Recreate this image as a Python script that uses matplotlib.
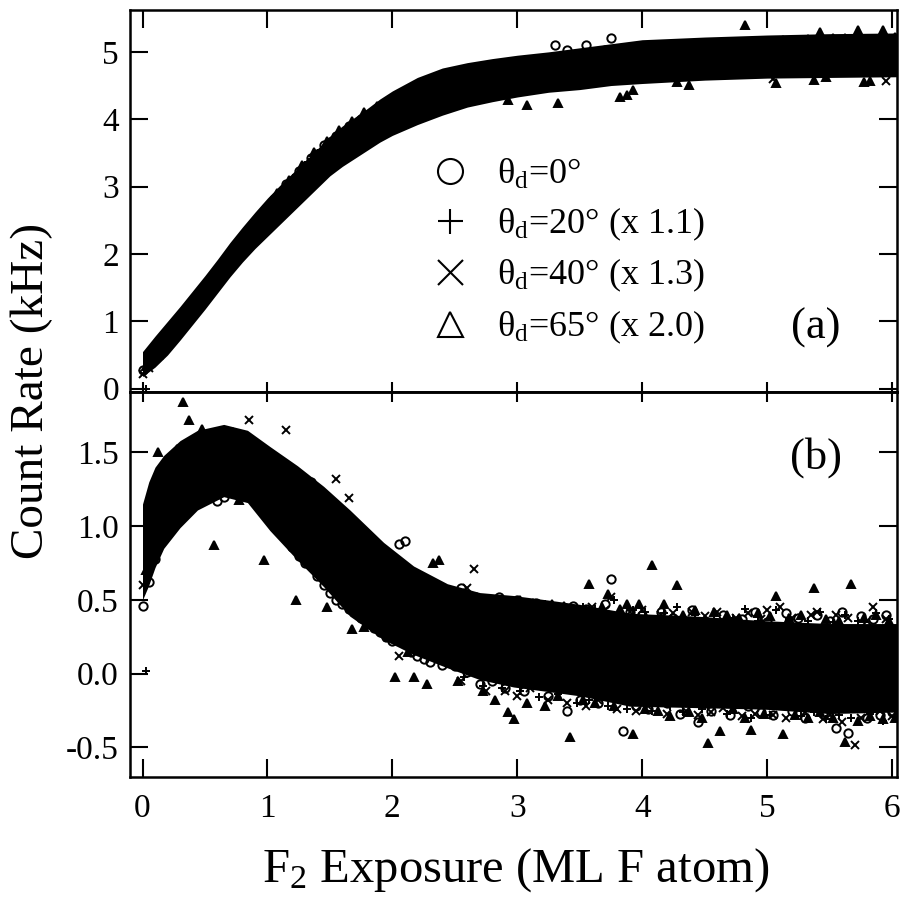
import matplotlib
matplotlib.use('Agg')
import matplotlib.pyplot as plt
from matplotlib.lines import Line2D
from matplotlib.ticker import FormatStrFormatter

plt.rcParams['font.family'] = 'Liberation Serif'
plt.rcParams['mathtext.fontset'] = 'custom'
plt.rcParams['mathtext.rm'] = 'Liberation Serif'
plt.rcParams['mathtext.it'] = 'Liberation Serif:italic'
plt.rcParams['axes.unicode_minus'] = False

# exposure grids (ML F atom), two interleaved sampling sets
exposureA = [0.00, 0.05, 0.10, 0.15, 0.20, 0.25, 0.30, 0.35, 0.40, 0.45,
             0.50, 0.55, 0.60, 0.65, 0.70, 0.75, 0.80, 0.85, 0.90, 0.95,
             1.00, 1.05, 1.10, 1.15, 1.20, 1.25, 1.30, 1.35, 1.40, 1.45,
             1.50, 1.55, 1.60, 1.65, 1.70, 1.75, 1.80, 1.85, 1.90, 1.95,
             2.00, 2.05, 2.10, 2.15, 2.20, 2.25, 2.30, 2.35, 2.40, 2.45,
             2.50, 2.55, 2.60, 2.65, 2.70, 2.75, 2.80, 2.85, 2.90, 2.95,
             3.00, 3.05, 3.10, 3.15, 3.20, 3.25, 3.30, 3.35, 3.40, 3.45,
             3.50, 3.55, 3.60, 3.65, 3.70, 3.75, 3.80, 3.85, 3.90, 3.95,
             4.00, 4.05, 4.10, 4.15, 4.20, 4.25, 4.30, 4.35, 4.40, 4.45,
             4.50, 4.55, 4.60, 4.65, 4.70, 4.75, 4.80, 4.85, 4.90, 4.95,
             5.00, 5.05, 5.10, 5.15, 5.20, 5.25, 5.30, 5.35, 5.40, 5.45,
             5.50, 5.55, 5.60, 5.65, 5.70, 5.75, 5.80, 5.85, 5.90, 5.95,
             6.00]
exposureB = [0.025, 0.075, 0.125, 0.175, 0.225, 0.275, 0.325, 0.375, 0.425, 0.475,
             0.525, 0.575, 0.625, 0.675, 0.725, 0.775, 0.825, 0.875, 0.925, 0.975,
             1.025, 1.075, 1.125, 1.175, 1.225, 1.275, 1.325, 1.375, 1.425, 1.475,
             1.525, 1.575, 1.625, 1.675, 1.725, 1.775, 1.825, 1.875, 1.925, 1.975,
             2.025, 2.075, 2.125, 2.175, 2.225, 2.275, 2.325, 2.375, 2.425, 2.475,
             2.525, 2.575, 2.625, 2.675, 2.725, 2.775, 2.825, 2.875, 2.925, 2.975,
             3.025, 3.075, 3.125, 3.175, 3.225, 3.275, 3.325, 3.375, 3.425, 3.475,
             3.525, 3.575, 3.625, 3.675, 3.725, 3.775, 3.825, 3.875, 3.925, 3.975,
             4.025, 4.075, 4.125, 4.175, 4.225, 4.275, 4.325, 4.375, 4.425, 4.475,
             4.525, 4.575, 4.625, 4.675, 4.725, 4.775, 4.825, 4.875, 4.925, 4.975,
             5.025, 5.075, 5.125, 5.175, 5.225, 5.275, 5.325, 5.375, 5.425, 5.475,
             5.525, 5.575, 5.625, 5.675, 5.725, 5.775, 5.825, 5.875, 5.925, 5.975,
             6.025]

# dense core of the overlapping points (edges)
topBandX = [0.00, 0.10, 0.20, 0.30, 0.40, 0.50, 0.60, 0.70, 0.80, 0.90,
            1.00, 1.10, 1.20, 1.30, 1.40, 1.50, 1.60, 1.70, 1.80, 1.90,
            2.00, 2.20, 2.40, 2.60, 2.80, 3.00, 3.25, 3.50, 3.75, 4.00,
            4.50, 5.00, 5.50, 6.04]
topBandLow = [0.18, 0.32, 0.50, 0.72, 0.95, 1.18, 1.42, 1.66, 1.88, 2.08,
              2.26, 2.44, 2.62, 2.80, 2.98, 3.16, 3.30, 3.42, 3.54, 3.66,
              3.76, 3.92, 4.06, 4.18, 4.26, 4.33, 4.40, 4.44, 4.50, 4.53,
              4.58, 4.61, 4.62, 4.63]
topBandHigh = [0.55, 0.78, 1.00, 1.22, 1.45, 1.68, 1.92, 2.17, 2.40, 2.62,
               2.83, 3.02, 3.20, 3.38, 3.56, 3.75, 3.90, 4.03, 4.16, 4.30,
               4.42, 4.62, 4.76, 4.84, 4.90, 4.95, 5.00, 5.06, 5.12, 5.18,
               5.22, 5.25, 5.27, 5.28]
botBandX = [0.00, 0.05, 0.10, 0.17, 0.30, 0.44, 0.65, 0.84, 1.02, 1.24,
            1.45, 1.66, 1.93, 2.17, 2.44, 2.70, 2.97, 3.24, 3.50, 3.90,
            4.44, 4.97, 5.50, 6.04]
botBandLow = [0.50, 0.60, 0.72, 0.85, 0.99, 1.11, 1.20, 1.16, 0.97, 0.77,
              0.59, 0.39, 0.23, 0.13, 0.04, -0.04, -0.09, -0.12, -0.15, -0.22,
              -0.23, -0.24, -0.27, -0.26]
botBandHigh = [1.15, 1.30, 1.40, 1.48, 1.58, 1.65, 1.69, 1.65, 1.54, 1.41,
               1.27, 1.11, 0.89, 0.73, 0.61, 0.55, 0.53, 0.50, 0.47, 0.41,
               0.39, 0.36, 0.34, 0.34]

# panel (a): count rate (kHz)
topTheta0 = [0.27, 0.38, 0.46, 0.63, 0.70, 0.86, 0.93, 1.10, 1.18, 1.35,
             1.44, 1.61, 1.69, 1.87, 1.95, 2.13, 2.20, 2.37, 2.44, 2.59,
             2.65, 2.81, 2.88, 3.04, 3.08, 3.23, 3.31, 3.43, 3.48, 3.61,
             3.66, 3.75, 3.80, 3.90, 3.93, 4.01, 4.03, 4.10, 4.12, 4.19,
             4.20, 4.26, 4.27, 4.33, 4.33, 4.39, 4.37, 4.45, 4.44, 4.50,
             4.47, 4.55, 4.53, 4.58, 4.57, 4.63, 4.61, 4.66, 4.64, 4.69,
             4.72, 4.68, 4.74, 4.70, 4.78, 4.72, 5.10, 4.74, 5.02, 4.77,
             4.81, 5.10, 4.86, 4.80, 5.03, 5.21, 4.86, 4.82, 4.90, 4.84,
             4.91, 4.86, 4.93, 4.87, 4.94, 4.88, 5.05, 4.89, 4.96, 4.90,
             4.97, 4.91, 5.00, 4.92, 4.98, 4.93, 5.01, 4.94, 5.02, 4.96,
             5.03, 4.96, 5.10, 4.97, 5.04, 4.98, 5.06, 4.99, 5.07, 4.99,
             5.06, 5.00, 5.14, 5.00, 5.07, 5.01, 5.08, 5.02, 5.09, 5.02,
             5.08]
topTheta20 = [0.00, 0.40, 0.56, 0.64, 0.78, 0.87, 1.02, 1.12, 1.27, 1.37,
              1.53, 1.63, 1.79, 1.89, 2.05, 2.14, 2.29, 2.38, 2.52, 2.60,
              2.74, 2.82, 2.96, 3.03, 3.17, 3.24, 3.36, 3.43, 3.55, 3.59,
              3.70, 3.74, 3.84, 3.87, 3.96, 3.98, 4.06, 4.07, 4.15, 4.15,
              4.22, 4.22, 4.29, 4.28, 4.35, 4.34, 4.41, 4.39, 4.46, 4.44,
              4.51, 4.49, 4.55, 4.53, 4.59, 4.57, 4.63, 4.60, 4.66, 4.63,
              4.69, 4.66, 4.72, 4.67, 4.75, 4.70, 4.77, 4.72, 4.80, 4.73,
              4.82, 4.75, 4.84, 4.77, 4.85, 4.78, 4.88, 4.79, 4.89, 4.81,
              4.91, 4.82, 4.92, 4.83, 4.94, 4.84, 4.95, 4.85, 4.96, 4.86,
              4.98, 4.87, 4.99, 4.88, 5.00, 4.89, 5.01, 4.90, 5.02, 4.91,
              5.03, 4.91, 5.04, 4.92, 5.05, 4.93, 5.05, 4.93, 5.06, 4.94,
              5.06, 4.94, 5.07, 4.95, 5.07, 4.95, 5.08, 4.96, 5.08, 4.96,
              5.07]
topTheta40 = [0.22, 0.31, 0.47, 0.55, 0.69, 0.78, 0.93, 1.02, 1.17, 1.27,
              1.42, 1.52, 1.68, 1.79, 1.93, 2.04, 2.18, 2.28, 2.41, 2.50,
              2.62, 2.72, 2.84, 2.93, 3.05, 3.13, 3.25, 3.33, 3.44, 3.50,
              3.60, 3.65, 3.74, 3.79, 3.87, 3.90, 3.97, 3.99, 4.06, 4.07,
              4.13, 4.14, 4.20, 4.21, 4.26, 4.26, 4.32, 4.32, 4.37, 4.37,
              4.42, 4.41, 4.46, 4.45, 4.50, 4.49, 4.54, 4.52, 4.57, 4.55,
              4.60, 4.58, 4.63, 4.60, 4.65, 4.62, 4.67, 4.64, 4.69, 4.66,
              4.71, 4.67, 4.73, 4.69, 4.75, 4.70, 4.76, 4.72, 4.78, 4.73,
              4.79, 4.74, 4.80, 4.75, 4.81, 4.76, 4.82, 4.77, 4.83, 4.78,
              4.84, 4.79, 4.85, 4.80, 4.86, 4.80, 4.87, 4.81, 4.88, 4.82,
              4.89, 4.60, 4.89, 4.83, 4.90, 4.84, 4.91, 4.84, 4.92, 4.85,
              4.92, 4.85, 4.93, 4.86, 4.93, 4.86, 4.94, 4.70, 4.94, 4.57,
              4.94]
topTheta65 = [0.33, 0.45, 0.50, 0.70, 0.74, 0.93, 0.98, 1.18, 1.22, 1.42,
              1.47, 1.69, 1.73, 1.95, 1.98, 2.19, 2.23, 2.44, 2.45, 2.66,
              2.68, 2.90, 2.88, 3.10, 3.08, 3.32, 3.26, 3.52, 3.44, 3.68,
              3.58, 3.84, 3.72, 3.98, 3.84, 4.10, 3.93, 4.20, 4.00, 4.28,
              4.06, 4.36, 4.12, 4.43, 4.16, 4.50, 4.20, 4.56, 4.24, 4.62,
              4.27, 4.66, 4.30, 4.70, 4.34, 4.74, 4.37, 4.78, 4.29, 4.81,
              4.42, 4.21, 4.84, 4.46, 4.88, 4.49, 4.24, 4.51, 4.93, 4.53,
              4.95, 4.55, 4.97, 4.57, 4.99, 4.58, 4.33, 4.36, 4.44, 4.62,
              5.03, 4.63, 5.05, 4.65, 5.06, 4.55, 5.08, 4.51, 5.10, 4.68,
              5.11, 4.69, 5.12, 4.70, 5.13, 4.71, 5.40, 4.72, 5.15, 4.73,
              5.16, 4.54, 5.17, 4.75, 5.18, 4.76, 5.19, 4.58, 5.30, 4.62,
              5.20, 4.77, 5.21, 4.78, 5.32, 4.55, 4.56, 4.78, 5.33, 4.79,
              5.22]

# panel (b): count rate (kHz)
botTheta0 = [0.46, 0.62, 0.78, 0.92, 0.98, 1.05, 1.10, 1.18, 1.22, 1.24,
             1.28, 1.21, 1.17, 1.20, 1.24, 1.27, 1.30, 1.26, 1.22, 1.18,
             1.12, 1.05, 0.98, 0.92, 0.86, 0.80, 0.75, 1.30, 0.66, 0.60,
             0.55, 0.50, 0.47, 0.44, 0.42, 0.38, 0.34, 0.31, 0.28, 0.25,
             0.22, 0.88, 0.90, 0.15, 0.12, 0.10, 0.08, 0.45, 0.06, 0.40,
             0.05, 0.58, 0.01, 0.50, -0.07, 0.20, -0.05, 0.52, -0.10, 0.15,
             0.50, -0.12, 0.10, 0.48, -0.05, -0.15, 0.45, 0.12, -0.25, 0.46,
             -0.18, 0.44, 0.05, -0.20, 0.47, 0.64, 0.10, -0.39, 0.42, -0.22,
             0.40, -0.24, 0.05, 0.42, -0.20, 0.38, -0.27, 0.15, 0.43, -0.33,
             0.36, -0.25, 0.08, 0.40, -0.28, 0.12, 0.37, -0.22, 0.42, -0.26,
             0.35, -0.28, 0.10, 0.41, -0.25, 0.38, -0.30, 0.02, 0.40, -0.27,
             0.36, -0.37, 0.42, -0.40, 0.05, 0.39, -0.30, 0.37, -0.28, 0.40,
             -0.26]
botTheta20 = [0.02, 1.00, 1.18, 1.30, 1.35, 1.40, 1.45, 1.46, 1.50, 1.49,
              1.52, 1.50, 1.53, 1.49, 1.52, 1.48, 1.45, 1.42, 1.38, 1.36,
              1.32, 1.30, 1.26, 1.22, 1.18, 1.14, 1.10, 1.06, 1.02, 0.98,
              0.95, 0.92, 0.88, 0.84, 0.80, 0.77, 0.73, 0.69, 0.65, 0.61,
              0.58, 0.52, 0.50, 0.44, 0.43, 0.37, 0.38, 0.31, 0.34, 0.26,
              0.55, -0.02, 0.52, 0.08, -0.08, 0.50, 0.30, -0.10, 0.49, 0.02,
              -0.12, 0.48, 0.20, -0.16, 0.47, 0.05, -0.14, 0.46, 0.10, -0.20,
              0.45, -0.18, 0.44, 0.00, -0.22, 0.50, 0.15, -0.24, 0.43, -0.02,
              0.42, -0.25, 0.20, 0.41, -0.22, 0.45, -0.26, 0.30, 0.40, -0.24,
              -0.20, 0.40, 0.10, -0.27, 0.38, -0.05, 0.44, -0.30, 0.36, 0.12,
              -0.28, 0.43, -0.22, 0.37, 0.00, -0.29, 0.36, -0.26, 0.42, -0.31,
              0.35, -0.28, 0.40, -0.30, 0.36, 0.08, -0.27, 0.41, -0.32, 0.37,
              -0.25]
botTheta40 = [0.60, 0.98, 1.20, 1.10, 1.30, 1.22, 1.42, 1.30, 1.50, 1.35,
              1.55, 1.36, 1.58, 1.38, 1.60, 1.35, 1.58, 1.72, 1.48, 1.20,
              1.44, 1.10, 1.38, 1.65, 1.26, 0.95, 1.18, 0.88, 1.10, 0.82,
              1.04, 1.32, 0.95, 1.19, 0.86, 0.95, 0.78, 0.50, 0.72, 0.44,
              0.66, 0.12, 0.60, 0.30, 0.54, 0.22, 0.50, 0.15, 0.45, 0.08,
              0.52, -0.05, 0.58, 0.71, 0.48, -0.12, 0.15, 0.50, -0.12, 0.48,
              -0.15, 0.47, -0.10, 0.20, 0.46, -0.18, 0.45, 0.00, -0.20, 0.44,
              0.10, -0.22, 0.45, -0.18, 0.43, 0.52, -0.24, 0.20, 0.42, -0.25,
              0.43, -0.22, 0.05, 0.40, -0.27, 0.41, 0.15, -0.25, 0.42, -0.28,
              0.39, -0.26, 0.42, -0.23, 0.10, 0.38, -0.29, 0.41, -0.27, 0.37,
              0.43, -0.28, 0.45, -0.30, 0.38, 0.05, -0.26, 0.40, 0.42, -0.31,
              -0.28, 0.40, -0.33, 0.38, -0.48, -0.30, 0.36, 0.45, -0.25, 0.37,
              -0.29]
botTheta65 = [0.70, 1.05, 1.50, 1.22, 1.40, 1.52, 1.84, 1.72, 1.58, 1.66,
              1.55, 0.87, 1.62, 1.48, 1.64, 1.18, 1.60, 1.45, 1.55, 0.77,
              1.48, 1.05, 1.40, 0.98, 0.50, 1.25, 0.88, 1.15, 0.80, 0.45,
              1.00, 0.72, 0.90, 0.30, 0.83, 0.32, 0.75, 0.40, 0.66, 0.25,
              -0.02, 0.55, 0.15, -0.02, 0.45, -0.07, 0.75, 0.77, 0.10, 0.40,
              -0.05, 0.55, 0.10, 0.52, -0.12, 0.45, -0.18, 0.50, -0.26, -0.31,
              0.50, -0.20, 0.48, 0.15, -0.22, 0.47, -0.15, 0.46, -0.43, 0.05,
              -0.18, 0.61, -0.20, 0.45, 0.54, -0.22, 0.44, 0.47, -0.41, 0.47,
              -0.24, 0.74, -0.25, 0.47, -0.29, 0.60, 0.40, -0.26, 0.43, -0.30,
              -0.47, 0.42, -0.39, 0.40, -0.24, 0.38, -0.30, -0.38, 0.41, -0.27,
              0.39, 0.53, -0.41, 0.38, -0.28, 0.40, -0.30, 0.58, -0.26, 0.37,
              -0.30, 0.36, -0.46, 0.61, -0.32, 0.38, -0.29, 0.40, -0.31, 0.36,
              -0.30]

seriesLabels = ['θ$_\\mathrm{d}$=0°', 'θ$_\\mathrm{d}$=20° (x 1.1)',
                'θ$_\\mathrm{d}$=40° (x 1.3)', 'θ$_\\mathrm{d}$=65° (x 2.0)']
seriesMarkers = ['o', '+', 'x', '^']
seriesFill = ['none', 'none', 'none', 'k']
seriesExposure = [exposureA, exposureB, exposureA, exposureB]
topSeries = [topTheta0, topTheta20, topTheta40, topTheta65]
botSeries = [botTheta0, botTheta20, botTheta40, botTheta65]

fig = plt.figure(figsize=(9.06, 9.0), dpi=100)
axTop = fig.add_axes([0.1435, 0.5644, 0.8466, 0.4244])
axBot = fig.add_axes([0.1435, 0.1367, 0.8466, 0.4278])

panels = [(axTop, topSeries, topBandX, topBandLow, topBandHigh),
          (axBot, botSeries, botBandX, botBandLow, botBandHigh)]
for ax, allSeries, bandX, bandLow, bandHigh in panels:
    ax.fill_between(bandX, bandLow, bandHigh, color='k', lw=0, zorder=1)
    for xs, ys, mk, fc in zip(seriesExposure, allSeries, seriesMarkers, seriesFill):
        ax.plot(xs, ys, ls='none', marker=mk, ms=6, mfc=fc, mec='k', mew=1.4, zorder=2)
    for side in ['top', 'bottom', 'left', 'right']:
        ax.spines[side].set_linewidth(1.8)
    ax.set_xlim(-0.1, 6.04)
    ax.set_xticks(range(7))
    ax.tick_params(axis='y', direction='in', left=True, right=True, length=13, width=1.5,
                   labelsize=24, pad=8)

axTop.set_ylim(-0.05, 5.62)
axTop.set_yticks([0, 1, 2, 3, 4, 5])
axTop.tick_params(axis='x', direction='in', bottom=False, top=True, labelbottom=False,
                  length=13, width=1.5)

axBot.set_ylim(-0.70, 1.91)
axBot.set_yticks([-0.5, 0.0, 0.5, 1.0, 1.5])
axBot.yaxis.set_major_formatter(FormatStrFormatter('%.1f'))
axBot.tick_params(axis='x', direction='in', bottom=True, top=False, length=13, width=1.5,
                  labelsize=24, pad=12)
secTop = axBot.secondary_xaxis('top')
secTop.set_xticks(range(7))
secTop.set_xticklabels([])
secTop.tick_params(direction='inout', length=14, width=1.5)
secTop.spines['top'].set_linewidth(1.8)

legendHandles = [Line2D([], [], ls='none', marker=mk, ms=18, mfc='none', mec='k', mew=1.5)
                 for mk in seriesMarkers]
axTop.legend(legendHandles, seriesLabels, loc='upper left', bbox_to_anchor=(0.394, 0.614),
             frameon=False, fontsize=26, handlelength=1.0, handletextpad=0.8,
             labelspacing=0.39, borderpad=0, borderaxespad=0)

axTop.text(0.894, 0.168, '(a)', transform=axTop.transAxes, ha='center', va='center', fontsize=32)
axBot.text(0.894, 0.831, '(b)', transform=axBot.transAxes, ha='center', va='center', fontsize=32)

fig.text(32 / 906, 1 - 391 / 900, 'Count Rate (kHz)', rotation=90, ha='center', va='center',
         fontsize=34)
fig.text(516 / 906, 1 - 870 / 900, 'F$_2$ Exposure (ML F atom)', ha='center', va='center',
         fontsize=35)

fig.savefig('out.png', dpi=100)
